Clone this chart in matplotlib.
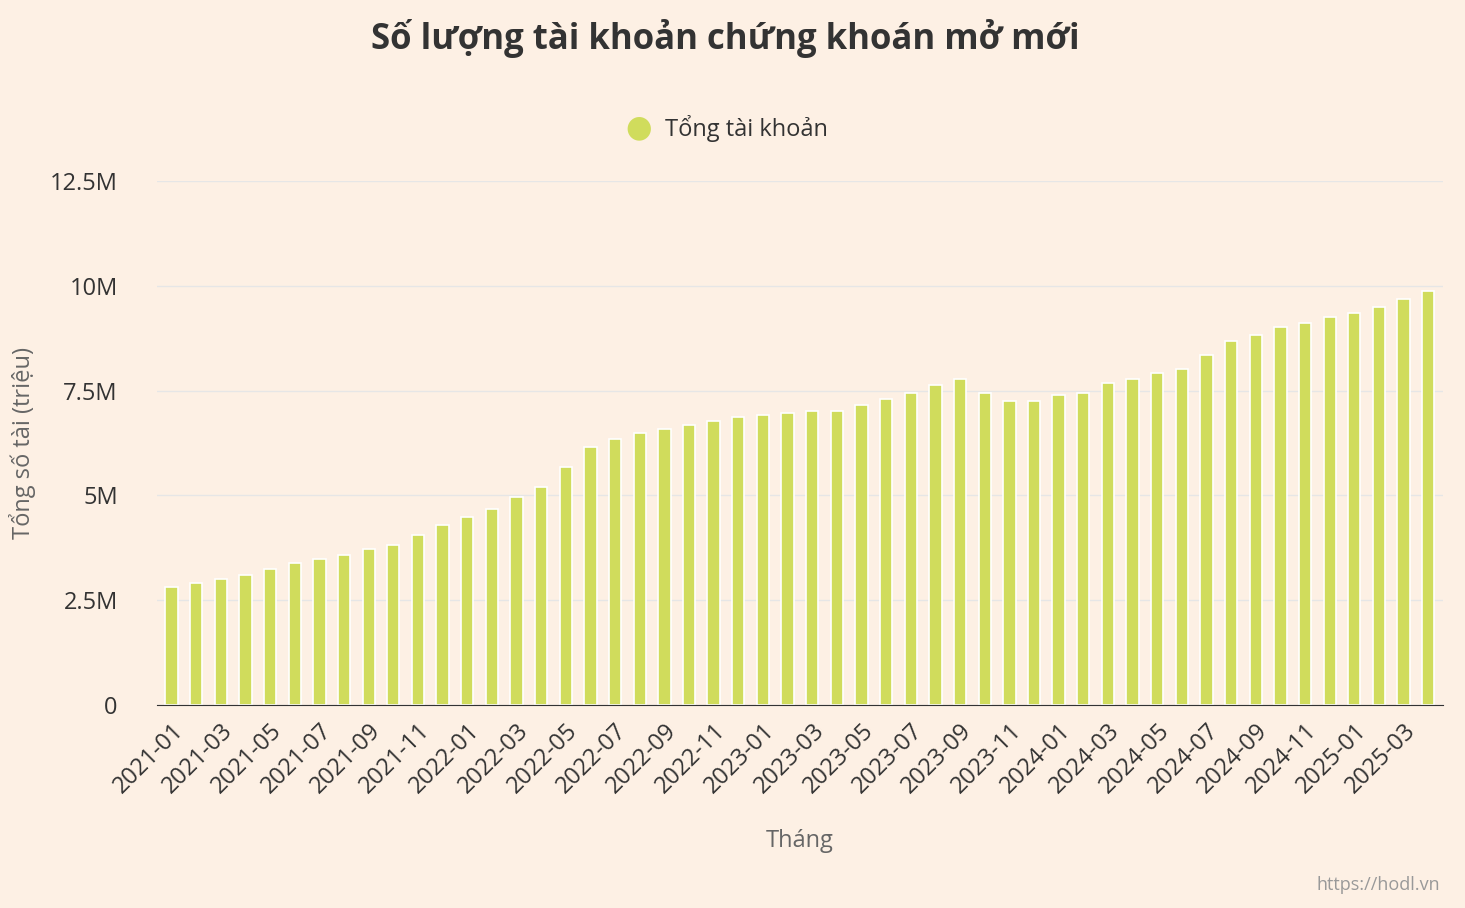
import matplotlib
matplotlib.use("Agg")
import matplotlib.pyplot as plt
from matplotlib.ticker import FuncFormatter

months = [f"{y}-{m:02d}" for y in range(2021, 2026) for m in range(1, 13)][:52]
values = [2.82,2.91,3.0,3.1,3.25,3.39,3.48,3.58,3.72,3.82,4.06,4.3,4.49,4.68,4.96,5.2,
          5.68,6.16,6.35,6.49,6.59,6.68,6.78,6.87,6.92,6.97,7.02,7.02,7.16,7.3,7.45,7.64,
          7.78,7.45,7.26,7.26,7.4,7.45,7.68,7.78,7.92,8.02,8.35,8.69,8.83,9.02,9.12,9.26,
          9.36,9.5,9.69,9.88]

plt.rcParams["font.family"] = "Open Sans"
bg = "#fdf0e4"
fig = plt.figure(figsize=(14.65, 9.08), dpi=100, facecolor=bg)
ax = fig.add_axes([0.107, 0.2236, 0.878, 0.5771], facecolor=bg)
x = list(range(len(months)))
ax.bar(x, [v*1e6 for v in values], width=0.5, color="#d0dc5c", edgecolor="white", linewidth=1.2)
ax.set_xlim(-0.6, len(months)-0.4)
ax.set_ylim(0, 12.5e6)
ticks = [0, 2.5e6, 5e6, 7.5e6, 10e6, 12.5e6]
ax.set_yticks(ticks)
ax.yaxis.set_major_formatter(FuncFormatter(lambda v, p: "0" if v == 0 else f"{v/1e6:g}M"))
ax.grid(axis="y", color="#e6e6e6", linewidth=1)
ax.set_axisbelow(True)
ax.spines["top"].set_visible(False)
ax.spines["right"].set_visible(False)
ax.spines["left"].set_visible(False)
ax.spines["bottom"].set_color("#333333")
ax.tick_params(axis="y", length=0, labelsize=17, colors="#333333", pad=28)
ax.set_xticks(x[::2])
ax.set_xticklabels(months[::2], rotation=45, ha="right", rotation_mode="anchor", fontsize=17, color="#333333")
ax.tick_params(axis="x", length=0, pad=10)
ax.set_xlabel("Tháng", fontsize=17, color="#666666", labelpad=22)
ax.set_ylabel("Tổng số tài (triệu)", fontsize=17, color="#666666", labelpad=10)
fig.text(0.495, 0.958, "Số lượng tài khoản chứng khoán mở mới", ha="center", va="center",
         fontsize=25, fontweight="bold", color="#333333")
fig.text(0.436, 0.859, "●", ha="center", va="center", fontsize=22, color="#d0dc5c", family="DejaVu Sans")
fig.text(0.454, 0.859, "Tổng tài khoản", ha="left", va="center", fontsize=17, color="#333333")
fig.text(0.983, 0.025, "https://hodl.vn", ha="right", va="center", fontsize=13, color="#999999")
fig.savefig("out.png", dpi=100, facecolor=bg)
